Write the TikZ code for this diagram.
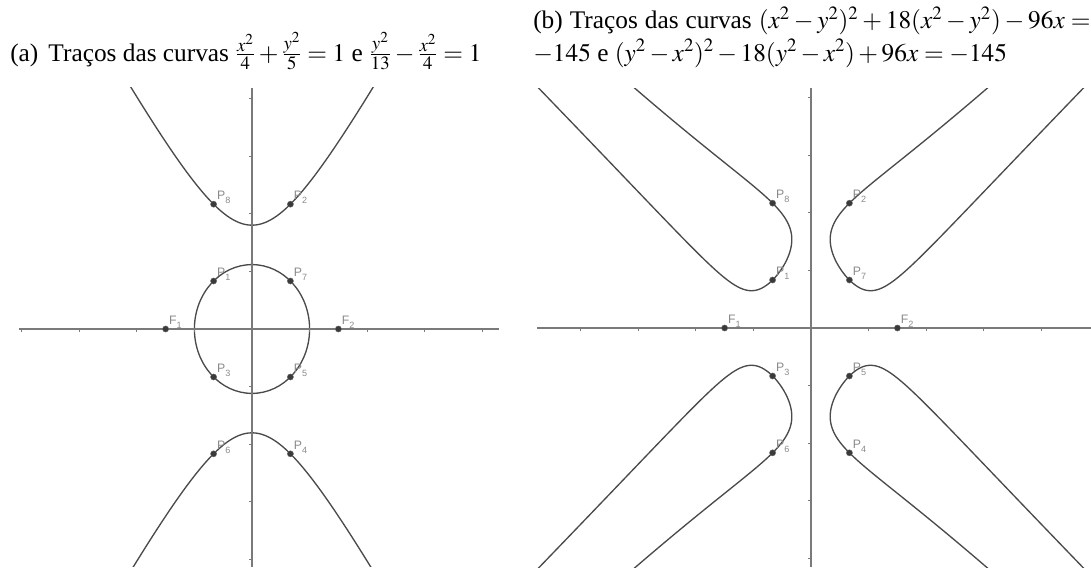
\documentclass[tikz,border=0pt]{standalone}
\usepackage{mathptmx}
\usepackage{fontspec}
\setmainfont{Liberation Serif}
\newfontfamily\lblfont{Liberation Sans}
\definecolor{curvecol}{HTML}{4A4A4A}
\definecolor{axiscol}{HTML}{7A7A7A}
\definecolor{dotcol}{HTML}{3A3A3A}
\definecolor{lblcol}{HTML}{8A8A8A}
\newcommand{\Psub}[2]{#1\raisebox{-2.6pt}{\fontsize{6.8}{7}\selectfont #2}}
\tikzset{
  curve/.style={draw=curvecol, line width=1pt},
  axisline/.style={draw=axiscol, line width=0.8pt},
  tickline/.style={draw=axiscol, line width=0.6pt},
  ptdot/.style={circle, fill=dotcol, draw=dotcol!80!white, line width=0.3pt, inner sep=0pt, minimum size=4.6pt},
  plabel/.style={font=\lblfont\fontsize{9.2}{10}\selectfont, text=lblcol, anchor=base west, inner sep=0pt, xshift=2.4pt, yshift=3.2pt},
  titletext/.style={font=\fontsize{19}{23}\selectfont, anchor=base west, inner sep=0pt}
}
\begin{document}
\begin{tikzpicture}[x=0.75pt,y=-0.75pt]
\useasboundingbox (0,0) rectangle (1091,567);

% titles
\node[titletext] (ta) at (10,61) {(a)\hspace{0.4em}Traços das curvas $\frac{x^2}{4}+\frac{y^2}{5} = 1$ e $\frac{y^2}{13}-\frac{x^2}{4} = 1$};
\node[titletext] (tb1) at (533,29) {\hbox to 418pt{(b) Traços das curvas $(x^2-y^2)^2+18(x^2-y^2)-96x=$}};
\node[titletext] (tb2) at (533,61) {$-145$ e $(y^2-x^2)^2-18(y^2-x^2)+96x=-145$};

% ---------------- left panel ----------------
\begin{scope}[shift={(252,329)}, x=21.6pt, y=21.6pt]
  \begin{scope}
    \clip (-8.09,-8.26) rectangle (8.58,8.37);
    \draw[curve] (0,0) ellipse [x radius=2, y radius=2.23607];
    \draw[curve] plot[domain=-4.7:4.7, samples=160, smooth] (\x,{sqrt(13*(1+\x*\x/4))});
    \draw[curve] plot[domain=-4.7:4.7, samples=160, smooth] (\x,{-sqrt(13*(1+\x*\x/4))});
  \end{scope}
  \draw[axisline] (-8.09,0) -- (8.58,0);
  \draw[axisline] (0,-8.26) -- (0,8.37);
  \foreach \t in {-8,-6,-4,-2,2,4,6,8} {
    \draw[tickline] (\t,0) -- ++(0,-2.2pt);
    \draw[tickline] (0,\t) -- ++(-2.2pt,0);
  }
  \node[ptdot] (aF1) at (-3,0) {};
  \node[ptdot] (aF2) at (3,0) {};
  \node[ptdot] (aP8) at (-4/3,13/3) {};
  \node[ptdot] (aP2) at (4/3,13/3) {};
  \node[ptdot] (aP1) at (-4/3,5/3) {};
  \node[ptdot] (aP7) at (4/3,5/3) {};
  \node[ptdot] (aP3) at (-4/3,-5/3) {};
  \node[ptdot] (aP5) at (4/3,-5/3) {};
  \node[ptdot] (aP6) at (-4/3,-13/3) {};
  \node[ptdot] (aP4) at (4/3,-13/3) {};
  \node[plabel] (aF1l) at (aF1) {\Psub{F}{1}};
  \node[plabel] (aF2l) at (aF2) {\Psub{F}{2}};
  \node[plabel] (aP8l) at (aP8) {\Psub{P}{8}};
  \node[plabel] (aP2l) at (aP2) {\Psub{P}{2}};
  \node[plabel] (aP1l) at (aP1) {\Psub{P}{1}};
  \node[plabel] (aP7l) at (aP7) {\Psub{P}{7}};
  \node[plabel] (aP3l) at (aP3) {\Psub{P}{3}};
  \node[plabel] (aP5l) at (aP5) {\Psub{P}{5}};
  \node[plabel] (aP6l) at (aP6) {\Psub{P}{6}};
  \node[plabel] (aP4l) at (aP4) {\Psub{P}{4}};
\end{scope}

% ---------------- right panel ----------------
\begin{scope}[shift={(811,328)}, x=21.6pt, y=21.6pt]
  \begin{scope}
    \clip (-9.51,-8.3) rectangle (9.72,8.33);
    \draw[curve] plot[domain=-31:31, samples=500, variable=\s] ({(\s*\s+64)/96},{sqrt(((\s*\s+64)/96)^2+9-\s)});
    \draw[curve] plot[domain=-31:31, samples=500, variable=\s] ({(\s*\s+64)/96},{-sqrt(((\s*\s+64)/96)^2+9-\s)});
    \draw[curve] plot[domain=-31:31, samples=500, variable=\s] ({-(\s*\s+64)/96},{sqrt(((\s*\s+64)/96)^2+9-\s)});
    \draw[curve] plot[domain=-31:31, samples=500, variable=\s] ({-(\s*\s+64)/96},{-sqrt(((\s*\s+64)/96)^2+9-\s)});
  \end{scope}
  \draw[axisline] (-9.51,0) -- (9.72,0);
  \draw[axisline] (0,-8.3) -- (0,8.33);
  \foreach \t in {-8,-6,-4,-2,2,4,6,8} {
    \draw[tickline] (\t,0) -- ++(0,-2.2pt);
    \draw[tickline] (0,\t) -- ++(-2.2pt,0);
  }
  \node[ptdot] (bF1) at (-3,0) {};
  \node[ptdot] (bF2) at (3,0) {};
  \node[ptdot] (bP8) at (-4/3,13/3) {};
  \node[ptdot] (bP2) at (4/3,13/3) {};
  \node[ptdot] (bP1) at (-4/3,5/3) {};
  \node[ptdot] (bP7) at (4/3,5/3) {};
  \node[ptdot] (bP3) at (-4/3,-5/3) {};
  \node[ptdot] (bP5) at (4/3,-5/3) {};
  \node[ptdot] (bP6) at (-4/3,-13/3) {};
  \node[ptdot] (bP4) at (4/3,-13/3) {};
  \node[plabel] (bF1l) at (bF1) {\Psub{F}{1}};
  \node[plabel] (bF2l) at (bF2) {\Psub{F}{2}};
  \node[plabel] (bP8l) at (bP8) {\Psub{P}{8}};
  \node[plabel] (bP2l) at (bP2) {\Psub{P}{2}};
  \node[plabel] (bP1l) at (bP1) {\Psub{P}{1}};
  \node[plabel] (bP7l) at (bP7) {\Psub{P}{7}};
  \node[plabel] (bP3l) at (bP3) {\Psub{P}{3}};
  \node[plabel] (bP5l) at (bP5) {\Psub{P}{5}};
  \node[plabel] (bP6l) at (bP6) {\Psub{P}{6}};
  \node[plabel] (bP4l) at (bP4) {\Psub{P}{4}};
\end{scope}
\end{tikzpicture}
\end{document}
